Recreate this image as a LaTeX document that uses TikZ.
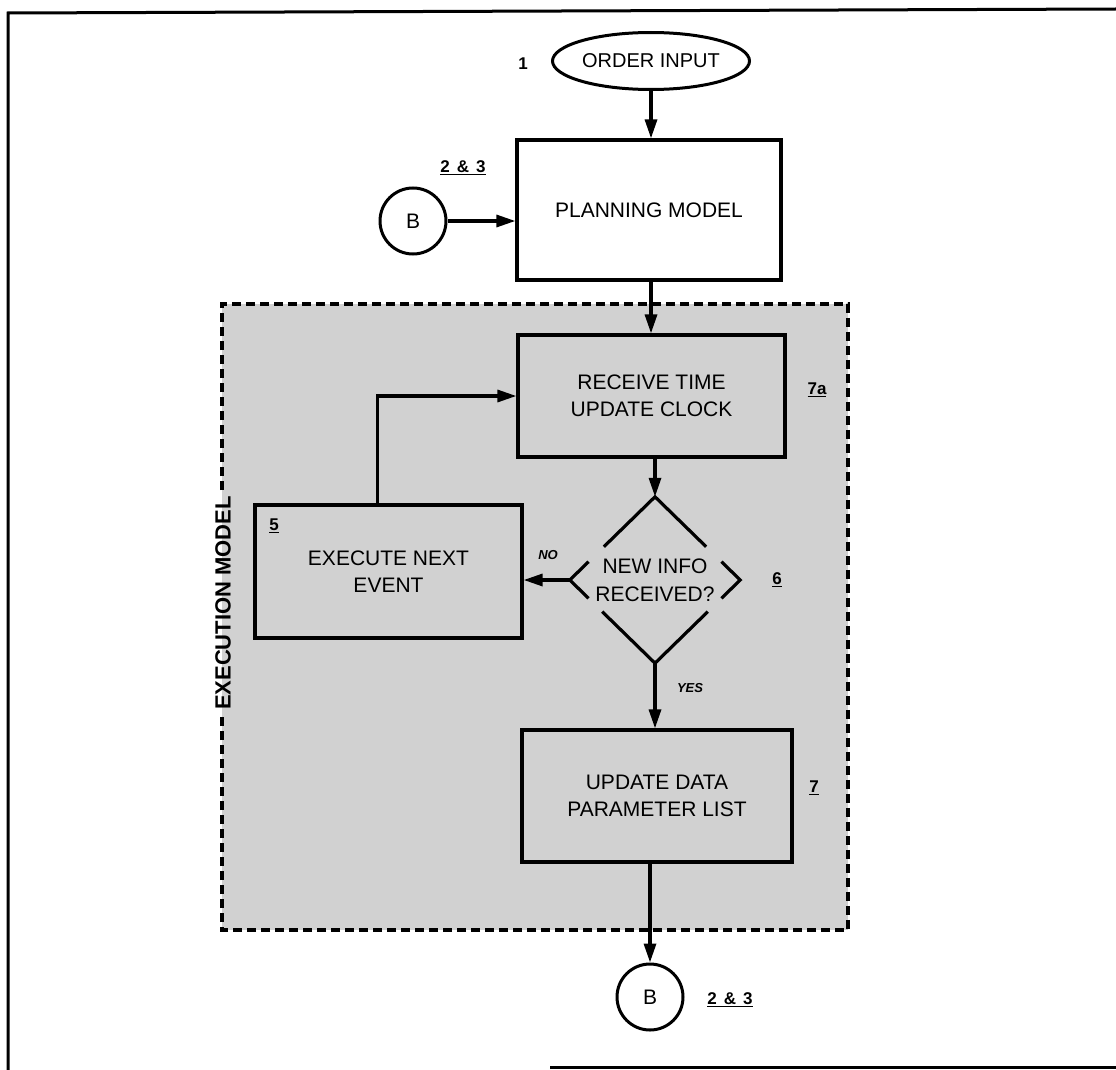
\documentclass[tikz,border=0pt]{standalone}
\usepackage{fontspec}
\setmainfont{Liberation Sans}
\usetikzlibrary{arrows.meta,shapes.geometric,calc}
\tikzset{
  box/.style={draw,line width=3.2pt,rectangle,align=center,font=\fontsize{21}{27}\selectfont},
  conn/.style={line width=3.2pt,-{Triangle[length=19pt,width=12pt]}},
  lbl/.style={font=\bfseries\fontsize{17}{19}\selectfont},
  small/.style={font=\itshape\bfseries\fontsize{13}{15}\selectfont},
  circ/.style={draw,circle,line width=3pt,minimum size=66pt,inner sep=0pt,font=\fontsize{21}{24}\selectfont},
  dashline/.style={line width=3.2pt,dash pattern=on 9pt off 5pt}
}
\begin{document}
\begin{tikzpicture}[x=1pt,y=-1pt]
\useasboundingbox (0,0) rectangle (1116,1070);
% outer frame
\draw[line width=3pt] (8,1070) -- (8,13) -- (1116,9);
\draw[line width=3pt] (550,1067) -- (1116,1067);
% execution model region
\fill[black!18] (222,304) rectangle (848,930);
\draw[dashline] (222,490) -- (222,304) -- (848,304) -- (848,930) -- (222,930) -- (222,716);
\node[font=\bfseries\fontsize{22}{24}\selectfont,rotate=90] (em) at (223,603) {EXECUTION MODEL};
% nodes
\node[draw,ellipse,line width=3pt,minimum width=197pt,minimum height=57pt,inner sep=0pt,font=\fontsize{20}{22}\selectfont] (oi) at (651,61) {ORDER INPUT};
\node[lbl] (l1) at (523,64) {1};
\node[box,minimum width=264pt,minimum height=140pt] (plan) at (649,210) {PLANNING MODEL};
\node[lbl] (l23a) at (463,168) {\underline{2\hspace{7pt}\&\hspace{7pt}3}};
\node[circ] (b1) at (413,221) {B};
\node[box,minimum width=267pt,minimum height=122pt] (recv) at (651.5,396) {RECEIVE TIME\\UPDATE CLOCK};
\node[lbl] (l7a) at (817,390) {\underline{7a}};
\node[diamond,draw=none,minimum width=170pt,minimum height=166pt,inner sep=0pt,align=center,font=\fontsize{21}{28}\selectfont] (dia) at (655,580) {NEW INFO\\RECEIVED?};
\node[lbl] (l6) at (777,580) {\underline{6}};
\node[box,minimum width=267pt,minimum height=133pt] (exec) at (388.5,571.5) {EXECUTE NEXT\\EVENT};
\node[lbl] (l5) at (274,526) {\underline{5}};
\node[box,minimum width=270pt,minimum height=132pt] (upd) at (657,796) {UPDATE DATA\\PARAMETER LIST};
\node[lbl] (l7) at (814,788) {\underline{7}};
\node[circ] (b2) at (650,997) {B};
\node[lbl] (l23b) at (730,1000) {\underline{2\hspace{7pt}\&\hspace{7pt}3}};
\node[small] (no) at (548,555) {NO};
\node[small] (yes) at (690,688) {YES};
% diamond outline in pieces
\begin{scope}[line width=3.2pt]
\draw ($(dia.north)!0.6!(dia.west)$) -- (dia.north) -- ($(dia.north)!0.6!(dia.east)$);
\draw ($(dia.west)!0.22!(dia.north)$) -- (dia.west) -- ($(dia.west)!0.22!(dia.south)$);
\draw ($(dia.east)!0.22!(dia.north)$) -- (dia.east) -- ($(dia.east)!0.22!(dia.south)$);
\draw ($(dia.south)!0.62!(dia.west)$) -- (dia.south) -- ($(dia.south)!0.62!(dia.east)$);
\end{scope}
% connectors
\draw[conn] (oi.south) -- (oi.south |- plan.north);
\draw[conn] (b1.east) -- (b1.east -| plan.west);
\draw[conn] (plan.south -| oi.south) -- (recv.north -| oi.south);
\draw[conn] (recv.south -| dia.north) -- (dia.north);
\draw[conn] (dia.west) -- (dia.west -| exec.east);
\draw[conn] ([xshift=-11pt]exec.north) |- (recv.west);
\draw[conn] (dia.south) -- (dia.south |- upd.north);
\draw[conn] (upd.south -| b2.north) -- (b2.north);
\end{tikzpicture}
\end{document}
